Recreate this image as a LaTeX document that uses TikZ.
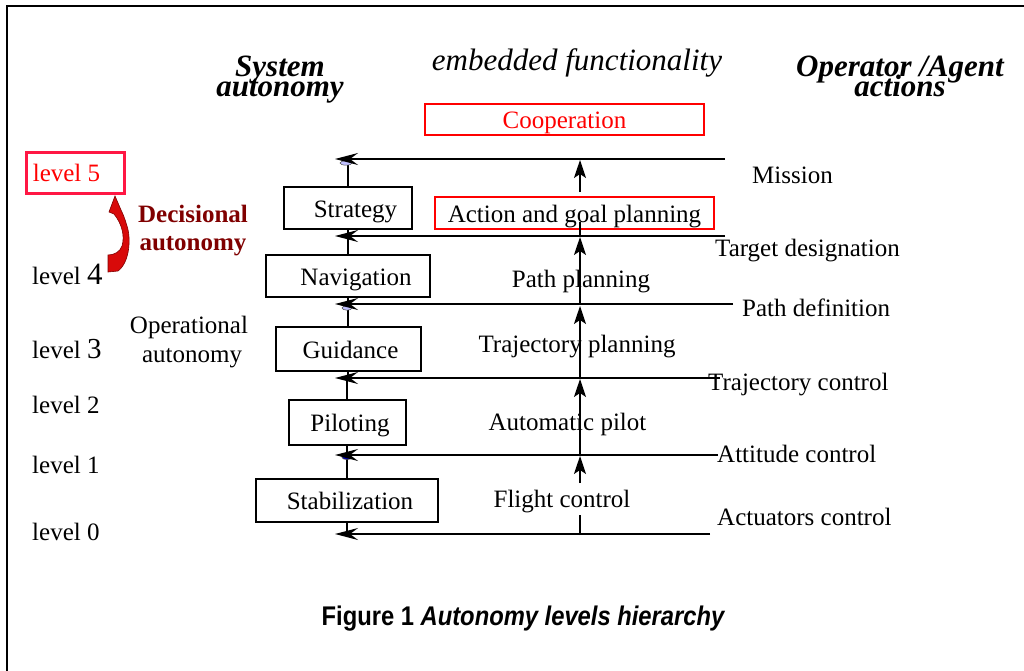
\documentclass[tikz,border=0pt]{standalone}
\usepackage{fontspec}
\setmainfont{Liberation Serif}
\newfontfamily\capfont{Liberation Sans}
\usetikzlibrary{arrows.meta}
\definecolor{crim}{HTML}{FF1744}
\definecolor{dred}{HTML}{800000}
\definecolor{arrred}{HTML}{D80A0A}
\tikzset{
  body/.style={font=\fontsize{25}{27}\selectfont, inner sep=0pt},
  head/.style={font=\fontsize{31}{31}\selectfont\bfseries\itshape, inner sep=0pt},
  blk/.style={draw, line width=2pt, inner sep=0pt, font=\fontsize{25}{27}\selectfont,
              text height=20pt, text depth=2pt},
  redbox/.style={draw=red, inner sep=0pt, font=\fontsize{25}{27}\selectfont,
              text height=20pt, text depth=2pt},
  bigarr/.style={line width=1.3pt, -{Stealth[length=23pt,width=12pt,inset=8pt]}},
  uparr/.style={line width=1.3pt, -{Stealth[length=18pt,width=12pt,inset=4pt]}},
  plain/.style={line width=1.3pt},
  blob/.style={fill=blue!25, draw=black!70, line width=0.5pt},
}
\begin{document}
\begin{tikzpicture}[x=1pt,y=-1pt]
\useasboundingbox (0,0) rectangle (1024,671);
\fill[white] (0,0) rectangle (1024,671);
% frame
\draw[line width=2.2pt] (7,672) -- (7,6) -- (1030,6);

% headers
\node[head, anchor=base] (sys1) at (280,77) {System};
\node[head, anchor=base] (sys2) at (280,97) {autonomy};
\node[inner sep=0pt, font=\fontsize{31}{31}\selectfont\itshape, anchor=base] (emb) at (577,71) {embedded functionality};
\node[head, anchor=base] (opa1) at (900,77) {Operator /Agent};
\node[head, anchor=base] (opa2) at (900,97) {actions};

% red boxes
\node[redbox, line width=2pt, text=red, minimum width=279pt, minimum height=31pt] (coop) at (564.5,119.5) {Cooperation};
\node[redbox, line width=1.5pt, minimum width=279pt, minimum height=32pt] (agp) at (574.5,213) {Action and goal planning};

% left level labels
\node[draw=crim, line width=3pt, inner sep=0pt, text=red, font=\fontsize{25}{27}\selectfont,
      text height=20pt, text depth=2pt, minimum width=98pt, minimum height=40pt] (lv5) at (75,173) {level 5\hspace*{17pt}};
\node[body, anchor=base west] (lv4) at (32,284) {level {\fontsize{31}{31}\selectfont 4}};
\node[body, anchor=base west] (lv3) at (32,358) {level {\fontsize{29}{29}\selectfont 3}};
\node[body, anchor=base west] (lv2) at (32,413) {level 2};
\node[body, anchor=base west] (lv1) at (32,473) {level 1};
\node[body, anchor=base west] (lv0) at (32,540) {level 0};

\node[body, font=\fontsize{25}{27}\selectfont\bfseries, text=dred, anchor=base] (dec1) at (193,222) {Decisional};
\node[body, font=\fontsize{25}{27}\selectfont\bfseries, text=dred, anchor=base] (dec2) at (193,250) {autonomy};
\node[body, anchor=base] (opr1) at (189,333) {Operational};
\node[body, anchor=base] (opr2) at (192,362) {autonomy};

% curved red arrow (level 4 -> level 5)
\filldraw[fill=arrred, draw=dred, line width=0.6pt]
  (115,196) -- (109,212) -- (114,214)
  .. controls (122,224) and (125,236) .. (122,246)
  .. controls (120,252) and (114,255) .. (108,255)
  -- (108,272) -- (118,271)
  .. controls (130,262) and (131,238) .. (127,226)
  .. controls (125,219) and (123,214) .. (121,210) -- cycle;

% system boxes
\node[blk, minimum width=128pt, minimum height=42pt] (strat) at (348,208) {\hspace*{15pt}Strategy};
\node[blk, minimum width=164pt, minimum height=42pt] (nav) at (348,276) {\hspace*{16pt}Navigation};
\node[blk, minimum width=145pt, minimum height=44pt] (guid) at (348,349) {\hspace*{5pt}Guidance};
\node[blk, minimum width=117pt, minimum height=45pt] (pilot) at (347,422.5) {\hspace*{6pt}Piloting};
\node[blk, minimum width=182pt, minimum height=43pt] (stab) at (347,500.5) {\hspace*{6pt}Stabilization};

% middle labels
\node[body, anchor=base] (pathp) at (581,287) {Path planning};
\node[body, anchor=base] (trajp) at (577,352) {Trajectory planning};
\node[body, anchor=base] (autop) at (567.5,430) {Automatic pilot};
\node[body, anchor=base] (flight) at (562,507) {Flight control};

% right labels
\node[body, anchor=base west] (mis) at (752,183) {Mission};
\node[body, anchor=base west] (tgt) at (715,256) {Target designation};
\node[body, anchor=base west] (pdef) at (742,316) {Path definition};
\node[body, anchor=base west] (tctl) at (708,390) {Trajectory control};
\node[body, anchor=base west] (actl) at (717,462) {Attitude control};
\node[body, anchor=base west] (uctl) at (717,525) {Actuators control};

% line end coordinates
\coordinate (L5) at (335,159); \coordinate (R5) at (725,159);
\coordinate (L4) at (335,236); \coordinate (R4) at (725,236);
\coordinate (L3) at (335,304); \coordinate (R3) at (733,304);
\coordinate (L2) at (335,378); \coordinate (R2) at (720,378);
\coordinate (L1) at (335,455); \coordinate (R1) at (718,455);
\coordinate (L0) at (335,534); \coordinate (R0) at (710,534);

% vertical links between boxes
\draw[plain] (strat.north) -- (strat.north |- L5);
\draw[plain] (strat.south) -- (nav.north);
\draw[plain] (nav.south) -- (nav.south |- L3);
\draw[plain] (guid.north) -- (guid.north |- L3);
\draw[plain] (guid.south) -- (guid.south |- L2);
\draw[plain] (pilot.north) -- (pilot.north |- L2);
\draw[plain] (pilot.south) -- (pilot.south |- L1);
\draw[plain] (stab.north) -- (stab.north |- L1);
\draw[plain] (stab.south) -- (stab.south |- L0);

% small blobs at arrow tips
\draw[blob] (346,163) ellipse [x radius=6, y radius=2.2];
\draw[blob] (347,308) ellipse [x radius=5, y radius=2.2];
\draw[fill=blue!70!black, draw=black!70, line width=0.5pt] (347,457.5) ellipse [x radius=5, y radius=2];

% horizontal command lines
\draw[bigarr] (R5) -- (L5);
\draw[bigarr] (R4) -- (L4);
\draw[bigarr] (R3) -- (L3);
\draw[bigarr] (R2) -- (L2);
\draw[bigarr] (R1) -- (L1);
\draw[bigarr] (R0) -- (L0);

% central functional flow
\coordinate (v0a) at (580,535); \coordinate (v0b) at (580,515);
\coordinate (v1a) at (580,483); \coordinate (v1b) at (580,456);
\coordinate (v2b) at (580,379);
\coordinate (v3b) at (580,306);
\coordinate (v4b) at (580,237);
\coordinate (v5a) at (580,222);
\coordinate (v6a) at (580,192); \coordinate (v6b) at (580,160);
\draw[plain] (v0a) -- (v0b);
\draw[uparr] (v1a) -- (v1b);
\draw[uparr] (v1b |- L1) -- (v2b);
\draw[uparr] (v2b |- L2) -- (v3b);
\draw[uparr] (v3b |- L3) -- (v4b);
\draw[plain] (v5a) -- (v5a |- L4);
\draw[uparr] (v6a) -- (v6b);

% caption
\node[inner sep=0pt, anchor=base, font=\fontsize{27}{27}\selectfont\capfont\bfseries] (cap) at (523,625)
  {\scalebox{0.88}[1]{Figure 1 \itshape Autonomy levels hierarchy}};
\end{tikzpicture}
\end{document}
